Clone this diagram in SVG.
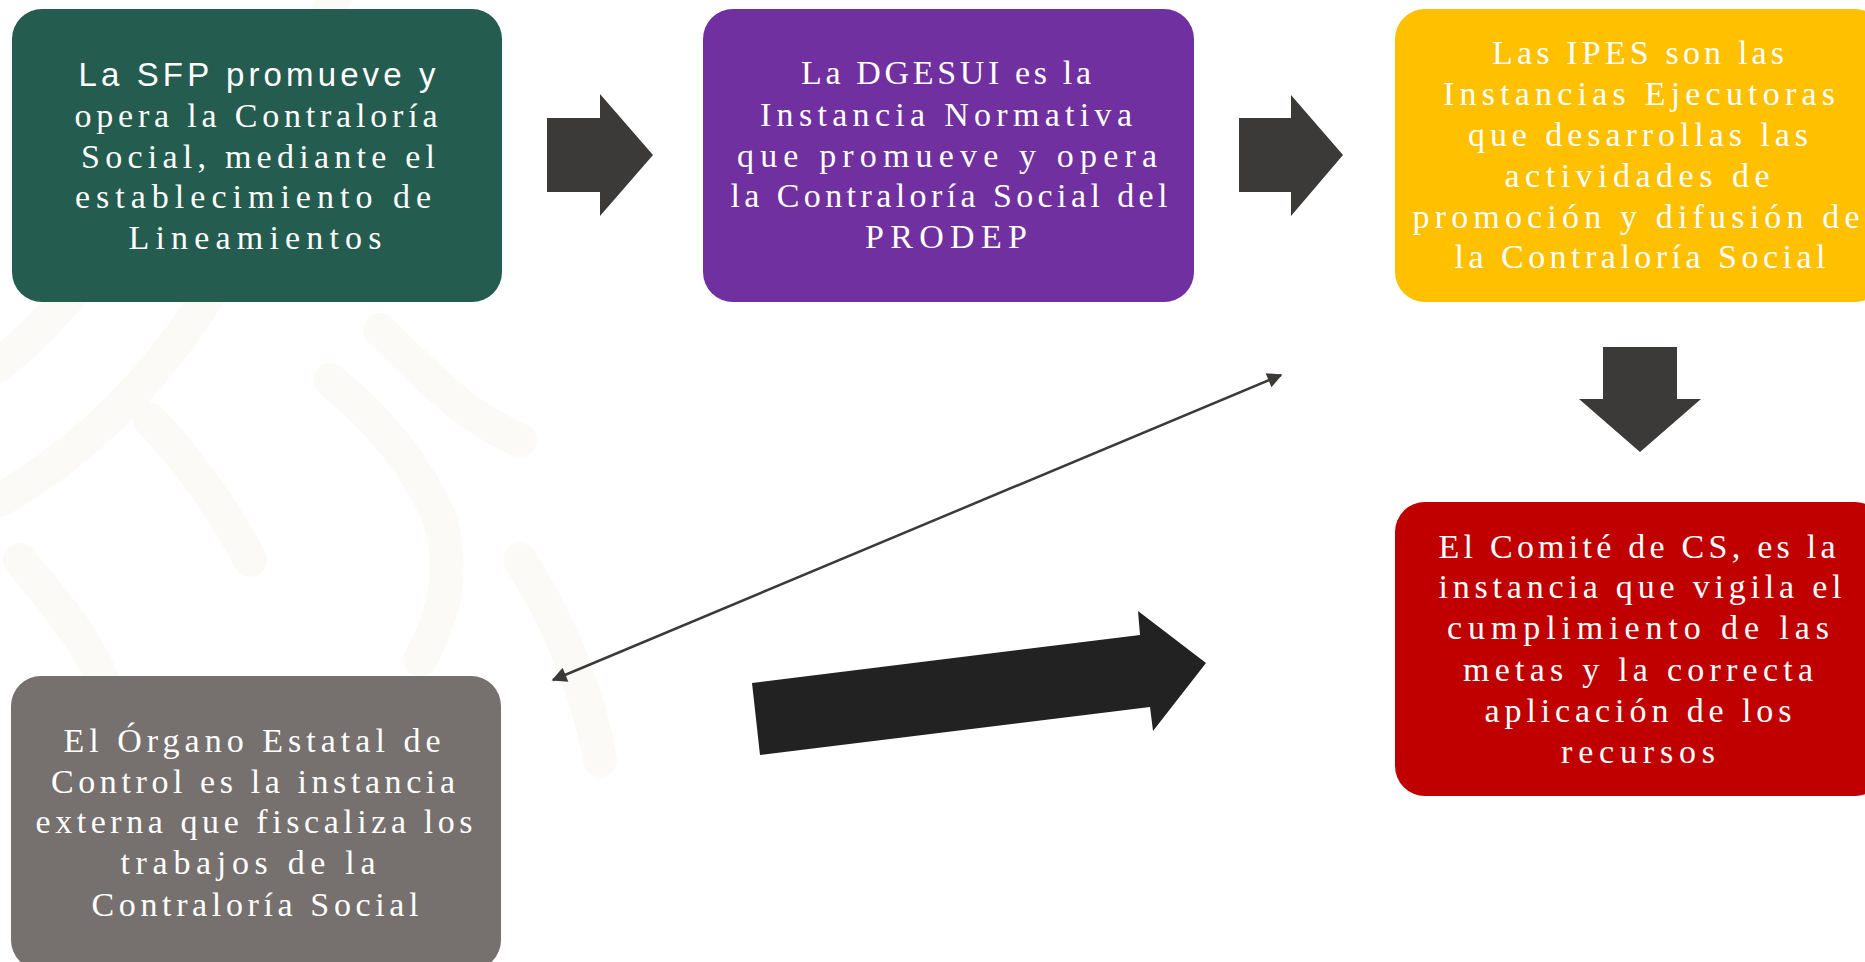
<svg xmlns="http://www.w3.org/2000/svg" width="1865" height="962" viewBox="0 0 1865 962">
<style>
.t{font-family:"Liberation Serif","Times New Roman",serif;font-size:34px;fill:#ffffff;text-anchor:middle}
.s{font-family:"Liberation Sans",Arial,sans-serif;font-size:33px;fill:#ffffff;text-anchor:middle}
.bg{fill:none;stroke:#fcfaf7;stroke-width:34;stroke-linecap:round;stroke-linejoin:round}
.blk{fill:#3b3a38}
</style>
<defs>
<marker id="ah" viewBox="0 0 10 10" refX="9" refY="5" markerWidth="7" markerHeight="6" orient="auto-start-reverse" markerUnits="strokeWidth">
<path d="M0,0 L10,5 L0,10 z" fill="#3b3a38"/>
</marker>
</defs>
<rect width="1865" height="962" fill="#ffffff"/>
<g id="decoration">
<path class="bg" d="M-20,380 C60,320 120,240 160,150"/>
<path class="bg" d="M0,500 C120,430 210,320 260,190 C300,90 330,10 340,-20"/>
<path class="bg" d="M150,420 C190,460 230,520 250,560"/>
<path class="bg" d="M330,380 C380,420 420,470 440,520 C460,590 430,640 420,660"/>
<path class="bg" d="M380,330 C430,380 470,420 520,440"/>
<path class="bg" d="M20,560 C60,610 90,640 110,700"/>
<path class="bg" d="M520,560 C560,620 590,700 600,760"/>
</g>
<g id="connectors">
<path class="blk" d="M547,118 L600,118 L600,94 L653,155 L600,216 L600,192 L547,192 Z"/>
<path class="blk" d="M1239,118 L1291,118 L1291,95 L1343,155 L1291,216 L1291,192 L1239,192 Z"/>
<path class="blk" d="M1603,347 L1677,347 L1677,399 L1701,399 L1640,452 L1579,399 L1603,399 Z"/>
<line x1="553" y1="680" x2="1281" y2="375" stroke="#3b3a38" stroke-width="2.5" marker-start="url(#ah)" marker-end="url(#ah)"/>
<path fill="#222222" d="M752,683 L1140,635 L1138,611 L1206,663 L1153,731 L1150,707 L760,755 Z"/>
</g>
<g id="node-sfp">
<rect x="12" y="9" width="490" height="293" rx="30" fill="#245c4f"/>
<text class="s" x="257" y="86" textLength="357" lengthAdjust="spacing">La SFP promueve y</text>
<text class="t" x="256" y="127" textLength="363" lengthAdjust="spacing">opera la Contraloría</text>
<text class="t" x="258" y="168" textLength="354" lengthAdjust="spacing">Social, mediante el</text>
<text class="t" x="253" y="208" textLength="356" lengthAdjust="spacing">establecimiento de</text>
<text class="t" x="255" y="249" textLength="253" lengthAdjust="spacing">Lineamientos</text>
</g>
<g id="node-dgesui">
<rect x="703" y="9" width="491" height="293" rx="30" fill="#7030a0"/>
<text class="t" x="946" y="84" textLength="290" lengthAdjust="spacing">La DGESUI es la</text>
<text class="t" x="946" y="126" textLength="372" lengthAdjust="spacing">Instancia Normativa</text>
<text class="t" x="947" y="167" textLength="420" lengthAdjust="spacing">que promueve y opera</text>
<text class="t" x="949" y="207" textLength="437" lengthAdjust="spacing">la Contraloría Social del</text>
<text class="t" x="946" y="248" textLength="162" lengthAdjust="spacing">PRODEP</text>
</g>
<g id="node-ipes">
<rect x="1395" y="9" width="490" height="293" rx="30" fill="#ffc000"/>
<text class="t" x="1638" y="64" textLength="292" lengthAdjust="spacing">Las IPES son las</text>
<text class="t" x="1639" y="105" textLength="392" lengthAdjust="spacing">Instancias Ejecutoras</text>
<text class="t" x="1638" y="146" textLength="340" lengthAdjust="spacing">que desarrollas las</text>
<text class="t" x="1637" y="187" textLength="265" lengthAdjust="spacing">actividades de</text>
<text class="t" x="1636" y="228" textLength="447" lengthAdjust="spacing">promoción y difusión de</text>
<text class="t" x="1640" y="268" textLength="371" lengthAdjust="spacing">la Contraloría Social</text>
</g>
<g id="node-comite">
<rect x="1395" y="502" width="490" height="294" rx="30" fill="#c00000"/>
<text class="t" x="1637" y="558" textLength="397" lengthAdjust="spacing">El Comité de CS, es la</text>
<text class="t" x="1640" y="598" textLength="403" lengthAdjust="spacing">instancia que vigila el</text>
<text class="t" x="1638" y="639" textLength="382" lengthAdjust="spacing">cumplimiento de las</text>
<text class="t" x="1638" y="681" textLength="350" lengthAdjust="spacing">metas y la correcta</text>
<text class="t" x="1638" y="722" textLength="307" lengthAdjust="spacing">aplicación de los</text>
<text class="t" x="1638" y="763" textLength="154" lengthAdjust="spacing">recursos</text>
</g>
<g id="node-organo">
<rect x="11" y="676" width="490" height="294" rx="30" fill="#76706e"/>
<text class="t" x="252" y="752" textLength="377" lengthAdjust="spacing">El Órgano Estatal de</text>
<text class="t" x="253" y="793" textLength="404" lengthAdjust="spacing">Control es la instancia</text>
<text class="t" x="254" y="833" textLength="437" lengthAdjust="spacing">externa que fiscaliza los</text>
<text class="t" x="248" y="874" textLength="255" lengthAdjust="spacing">trabajos de la</text>
<text class="t" x="255" y="916" textLength="327" lengthAdjust="spacing">Contraloría Social</text>
</g>
</svg>
